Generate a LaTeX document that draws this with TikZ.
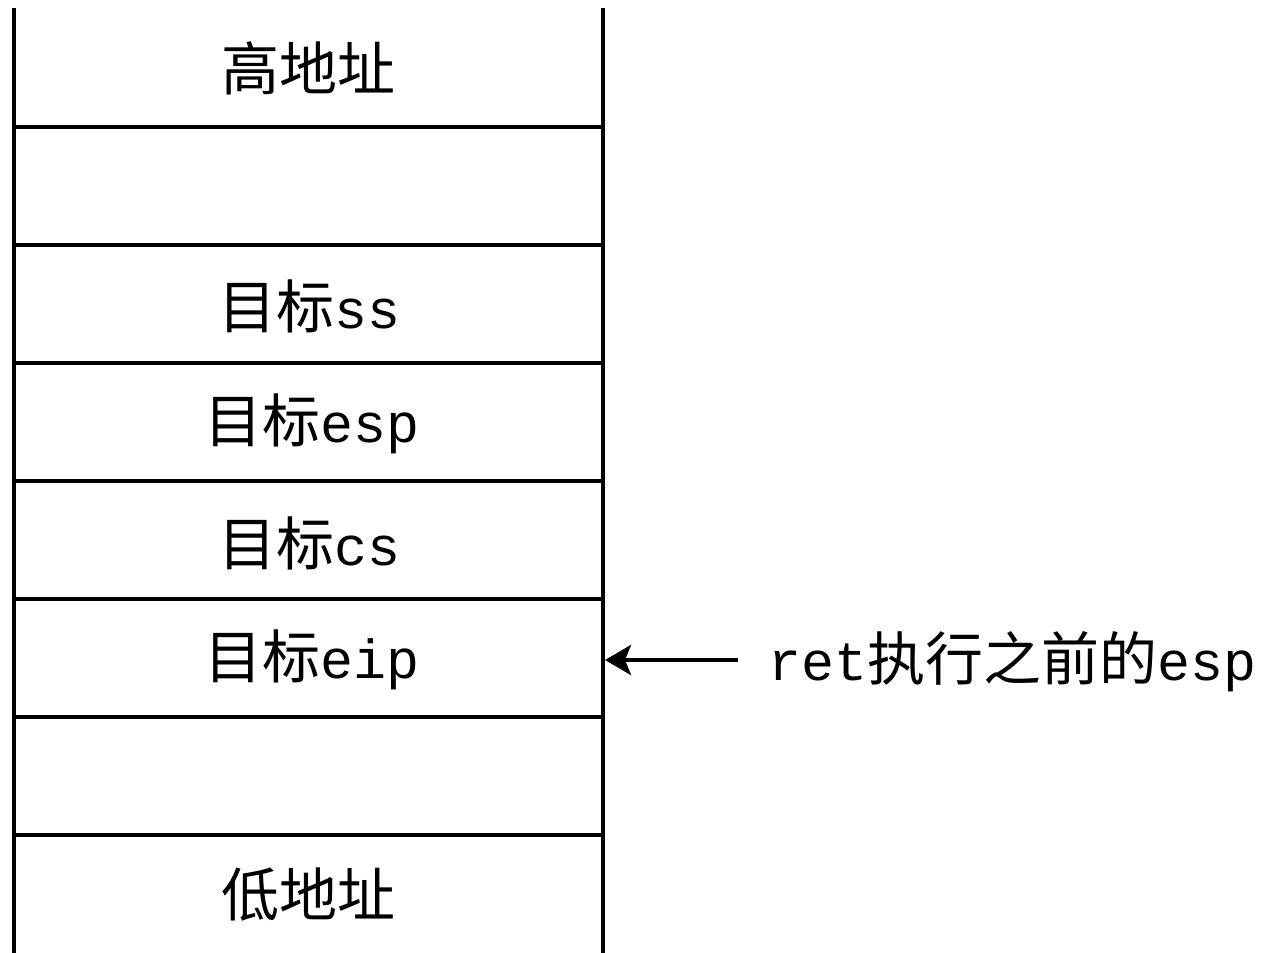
\documentclass[tikz,border=0pt]{standalone}
\usepackage{fontspec}
\setmonofont{Liberation Mono}
\newfontfamily\cjk{Noto Sans CJK SC}
\usetikzlibrary{arrows.meta}
\newcommand{\zh}[1]{{\cjk\fontsize{58}{64}\selectfont #1}}
\newcommand{\en}[1]{{\ttfamily\fontsize{55}{64}\selectfont #1}}
\begin{document}
\begin{tikzpicture}[x=1pt,y=-1pt,
  wall/.style={line width=4pt},
  cell/.style={inner sep=0pt, anchor=center},
  lbl/.style={inner sep=0pt, anchor=west},
  ptr/.style={line width=4pt, -{Stealth[length=26pt,width=30pt,inset=6pt]}}]
\useasboundingbox (0,0) rectangle (1285,953);
\fill[white] (0,0) rectangle (1285,953);
\draw[wall] (14,8) -- (14,953);
\draw[wall] (603,8) -- (603,953);
\foreach \y in {127,245,363,481,599,717,835} \draw[wall] (14,\y) -- (603,\y);
\node[cell] (hi) at (308,68) {\zh{高地址}};
\node[cell] (ss) at (310,306) {\zh{目标}\en{ss}};
\node[cell] (esp) at (312,424) {\zh{目标}\en{esp}};
\node[cell] (cs) at (310,543) {\zh{目标}\en{cs}};
\node[cell] (eip) at (312,660) {\zh{目标}\en{eip}};
\node[cell] (lo) at (308,895) {\zh{低地址}};
\coordinate (wall) at (605,660);
\node[lbl] (note) at (768,662) {\en{ret}\zh{执行之前的}\en{esp}};
\draw[ptr] (738,660) -- (wall);
\end{tikzpicture}
\end{document}
